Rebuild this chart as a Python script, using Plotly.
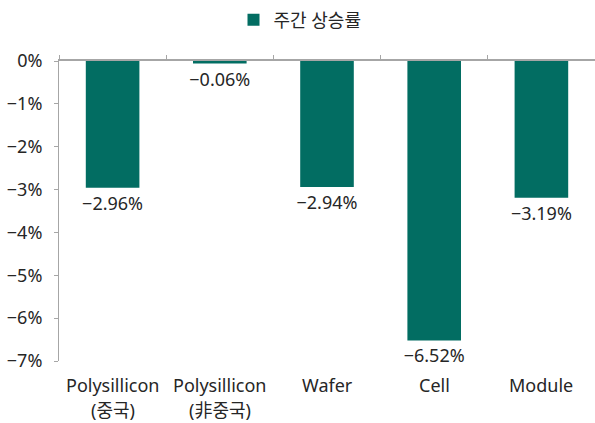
import plotly.graph_objects as go

categories = ["Polysillicon<br>(중국)", "Polysillicon<br>(非중국)", "Wafer", "Cell", "Module"]
weekly_change = [-2.96, -0.06, -2.94, -6.52, -3.19]
series_name = "주간 상승률"
y_ticks = [0, -1, -2, -3, -4, -5, -6, -7]
y_ticktext = ["0%", "−1%", "−2%", "−3%", "−4%", "−5%", "−6%", "−7%"]

FONT = "Noto Sans, Noto Sans CJK KR, sans-serif"
BAR = "#026D62"
TXT = "#262626"
AXIS = "#A6A6A6"
FS = 18

W, H = 595, 423
L, R, T, B = 59, 0, 61, 62
plot_h = H - T - B

labels = ["−{:.2f}%".format(abs(v)) if v < 0 else "{:.2f}%".format(v) for v in weekly_change]

fig = go.Figure()
fig.add_trace(go.Bar(
    x=list(range(len(categories))), y=weekly_change, name=series_name,
    marker=dict(color=BAR, line=dict(width=0)),
    width=0.5,
    text=labels, textposition="outside", cliponaxis=False,
    constraintext="none",
    textfont=dict(family=FONT, size=FS, color=TXT),
    showlegend=True,
))

annotations = []
for i, c in enumerate(categories):
    lines = c.split("<br>")
    for j, ln in enumerate(lines):
        py = 385 + 25 * j
        annotations.append(dict(
            x=i, xref="x", y=(H - B - py) / plot_h, yref="paper",
            text=ln, showarrow=False, xanchor="center", yanchor="middle",
            font=dict(family=FONT, size=FS, color=TXT),
        ))

fig.update_layout(
    width=W, height=H,
    margin=dict(l=L, r=R, t=T, b=B, autoexpand=False),
    paper_bgcolor="white", plot_bgcolor="white",
    font=dict(family=FONT, size=FS, color=TXT),
    showlegend=True,
    legend=dict(orientation="h", x=(300 - L) / (W - L - R), xanchor="center",
                yref="container", y=1 - 20 / H, yanchor="middle",
                font=dict(family=FONT, size=FS, color=TXT),
                bgcolor="rgba(0,0,0,0)"),
    annotations=annotations,
)
fig.update_xaxes(
    type="linear", range=[-0.5, len(categories) - 0.5],
    side="top", showline=True, linecolor=AXIS, linewidth=1.5,
    tickvals=[k - 0.5 for k in range(len(categories) + 1)],
    ticks="outside", ticklen=4, tickcolor=AXIS, tickwidth=1,
    showticklabels=False, showgrid=False, zeroline=False, fixedrange=True,
    automargin=False,
)
fig.update_yaxes(
    range=[-7, 0], tickvals=y_ticks, ticktext=y_ticktext,
    showline=True, linecolor=AXIS, linewidth=1,
    ticks="outside", ticklen=4, tickcolor=AXIS,
    showgrid=False, zeroline=False,
    tickfont=dict(family=FONT, size=FS, color=TXT),
    ticklabelstandoff=8, automargin=False, fixedrange=True,
)

fig.write_html("out.html", config={"displayModeBar": False},
               post_script="document.body.style.margin='0px';document.body.style.overflow='hidden';")
